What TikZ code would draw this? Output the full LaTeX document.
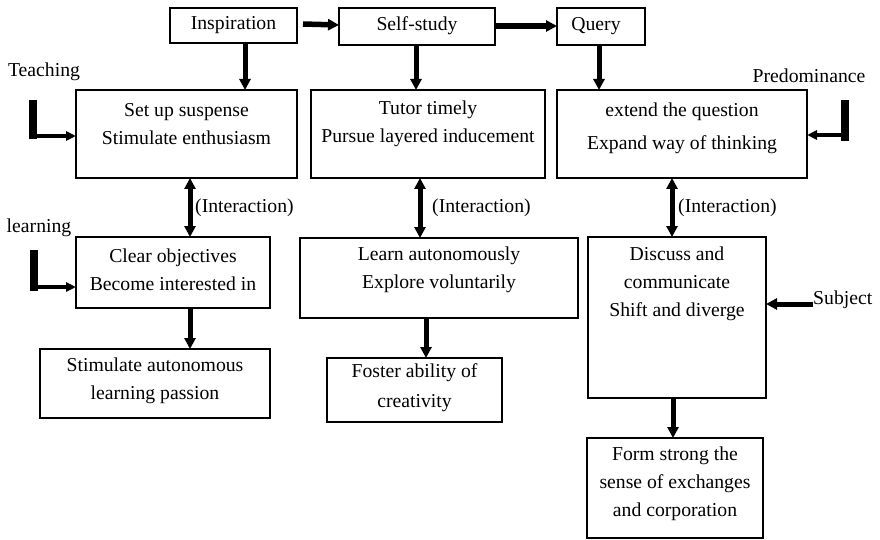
\documentclass[tikz,border=0pt]{standalone}
\usepackage{fontspec}
\setmainfont{Liberation Serif}
\usetikzlibrary{arrows.meta}
\begin{document}
\begin{tikzpicture}[x=1pt,y=-1pt,
 box/.style={draw,line width=1.8pt,inner sep=0pt,outer sep=0pt},
 txt/.style={align=center,font=\fontsize{19.7}{28}\selectfont,inner sep=0pt},
 lbl/.style={font=\fontsize{19.7}{23}\selectfont,inner sep=0pt},
 arr/.style={line width=5pt,-{Triangle[length=11pt,width=11pt]}},
 darr/.style={line width=5pt,{Triangle[length=11pt,width=11pt]}-{Triangle[length=11pt,width=11pt]}},
 bar/.style={line width=7.5pt},
 sidearr/.style={line width=3.5pt,-{Triangle[length=10pt,width=9pt]}}]
\useasboundingbox (0,0) rectangle (880,540);
% boxes
\node[box,minimum width=127pt,minimum height=35pt] (insp) at (233.5,25.5) {};
\node[box,minimum width=156pt,minimum height=37pt] (self) at (417,26.5) {};
\node[box,minimum width=88pt,minimum height=37pt] (query) at (601,26.5) {};
\node[box,minimum width=221pt,minimum height=88pt] (sus) at (186.5,134) {};
\node[box,minimum width=234pt,minimum height=88pt] (tut) at (428,134) {};
\node[box,minimum width=250pt,minimum height=88pt] (ext) at (682,134) {};
\node[box,minimum width=194pt,minimum height=71pt] (clr) at (173,272.5) {};
\node[box,minimum width=278pt,minimum height=80pt] (lrn) at (439,278) {};
\node[box,minimum width=178pt,minimum height=161pt] (dis) at (677,317.5) {};
\node[box,minimum width=230pt,minimum height=69pt] (stm) at (155,383.5) {};
\node[box,minimum width=175pt,minimum height=64pt] (fos) at (414.5,390) {};
\node[box,minimum width=176pt,minimum height=100pt] (frm) at (675,488) {};
% texts
\node[txt] (tinsp) at (233.5,25) {Inspiration};
\node[txt] (tself) at (417,26) {Self-study};
\node[txt] (tquery) at (596,26) {Query};
\node[txt] (tsus) at (186.5,124) {Set up suspense\\Stimulate enthusiasm};
\node[txt] (ttut) at (428,124) {Tutor timely\\Pursue layered inducement};
\node[txt,font=\fontsize{19.7}{33}\selectfont] (text) at (682,128.5) {extend the question\\Expand way of thinking};
\node[txt] (tclr) at (173,270) {Clear objectives\\Become interested in};
\node[txt] (tlrn) at (439,269.5) {Learn autonomously\\Explore voluntarily};
\node[txt] (tstm) at (155,380.5) {Stimulate autonomous\\learning passion};
\node[txt,font=\fontsize{19.7}{30}\selectfont] (tfos) at (414.5,388) {Foster ability of\\creativity};
\node[txt] (tdis) at (677,284) {Discuss and\\communicate\\Shift and diverge};
\node[txt] (tfrm) at (675,483.5) {Form strong the\\sense of exchanges\\and corporation};
% side labels
\node[lbl] (lteach) at (44,72) {Teaching};
\node[lbl] (llearn) at (39,228) {learning};
\node[lbl] (lpred) at (809,76) {Predominance};
\node[lbl,anchor=west] (lsubj) at (813,300) {Subject};
\node[lbl,anchor=west] (li1) at (195,208) {(Interaction)};
\node[lbl,anchor=west] (li2) at (432,208) {(Interaction)};
\node[lbl,anchor=west] (li3) at (678,208) {(Interaction)};
% top row arrows
\draw[arr,line width=5.5pt] ([xshift=6pt,yshift=1.5pt]insp.east) -- ([yshift=1.5pt]self.west);
\draw[arr,line width=6.5pt] ([yshift=0.5pt]self.east) -- ([yshift=0.5pt]query.west);
% down arrows
\draw[arr] (insp.south -| 245,0) -- (sus.north -| 245,0);
\draw[arr] (self.south -| 416,0) -- (tut.north -| 416,0);
\draw[arr] (query.south -| 599,0) -- (ext.north -| 599,0);
\draw[darr] (sus.south -| 190,0) -- (clr.north -| 190,0);
\draw[darr] (tut.south -| 420,0) -- (lrn.north -| 420,0);
\draw[darr] (ext.south -| 672,0) -- (dis.north -| 672,0);
\draw[arr] (clr.south -| 190,0) -- (stm.north -| 190,0);
\draw[arr] (lrn.south -| 426,0) -- (fos.north -| 426,0);
\draw[arr] (dis.south -| 673,0) -- (frm.north -| 673,0);
% L-shaped side arrows
\coordinate (tTop) at (33,100);
\coordinate (tBot) at (33,139.5);
\coordinate (tA) at (33,136);
\draw[bar] (tTop) -- (tBot);
\draw[sidearr] (tA) -- (tA -| sus.west);
\coordinate (lTop) at (34,250);
\coordinate (lBot) at (34,291);
\coordinate (lA) at (34,287);
\draw[bar] (lTop) -- (lBot);
\draw[sidearr] (lA) -- (lA -| clr.west);
\coordinate (pTop) at (845,100);
\coordinate (pBot) at (845,141);
\coordinate (pA) at (845,135);
\draw[bar] (pTop) -- (pBot);
\draw[sidearr] (pA) -- (pA -| ext.east);
\coordinate (sA) at (813,304);
\draw[arr] (sA) -- (sA -| dis.east);
\end{tikzpicture}
\end{document}
